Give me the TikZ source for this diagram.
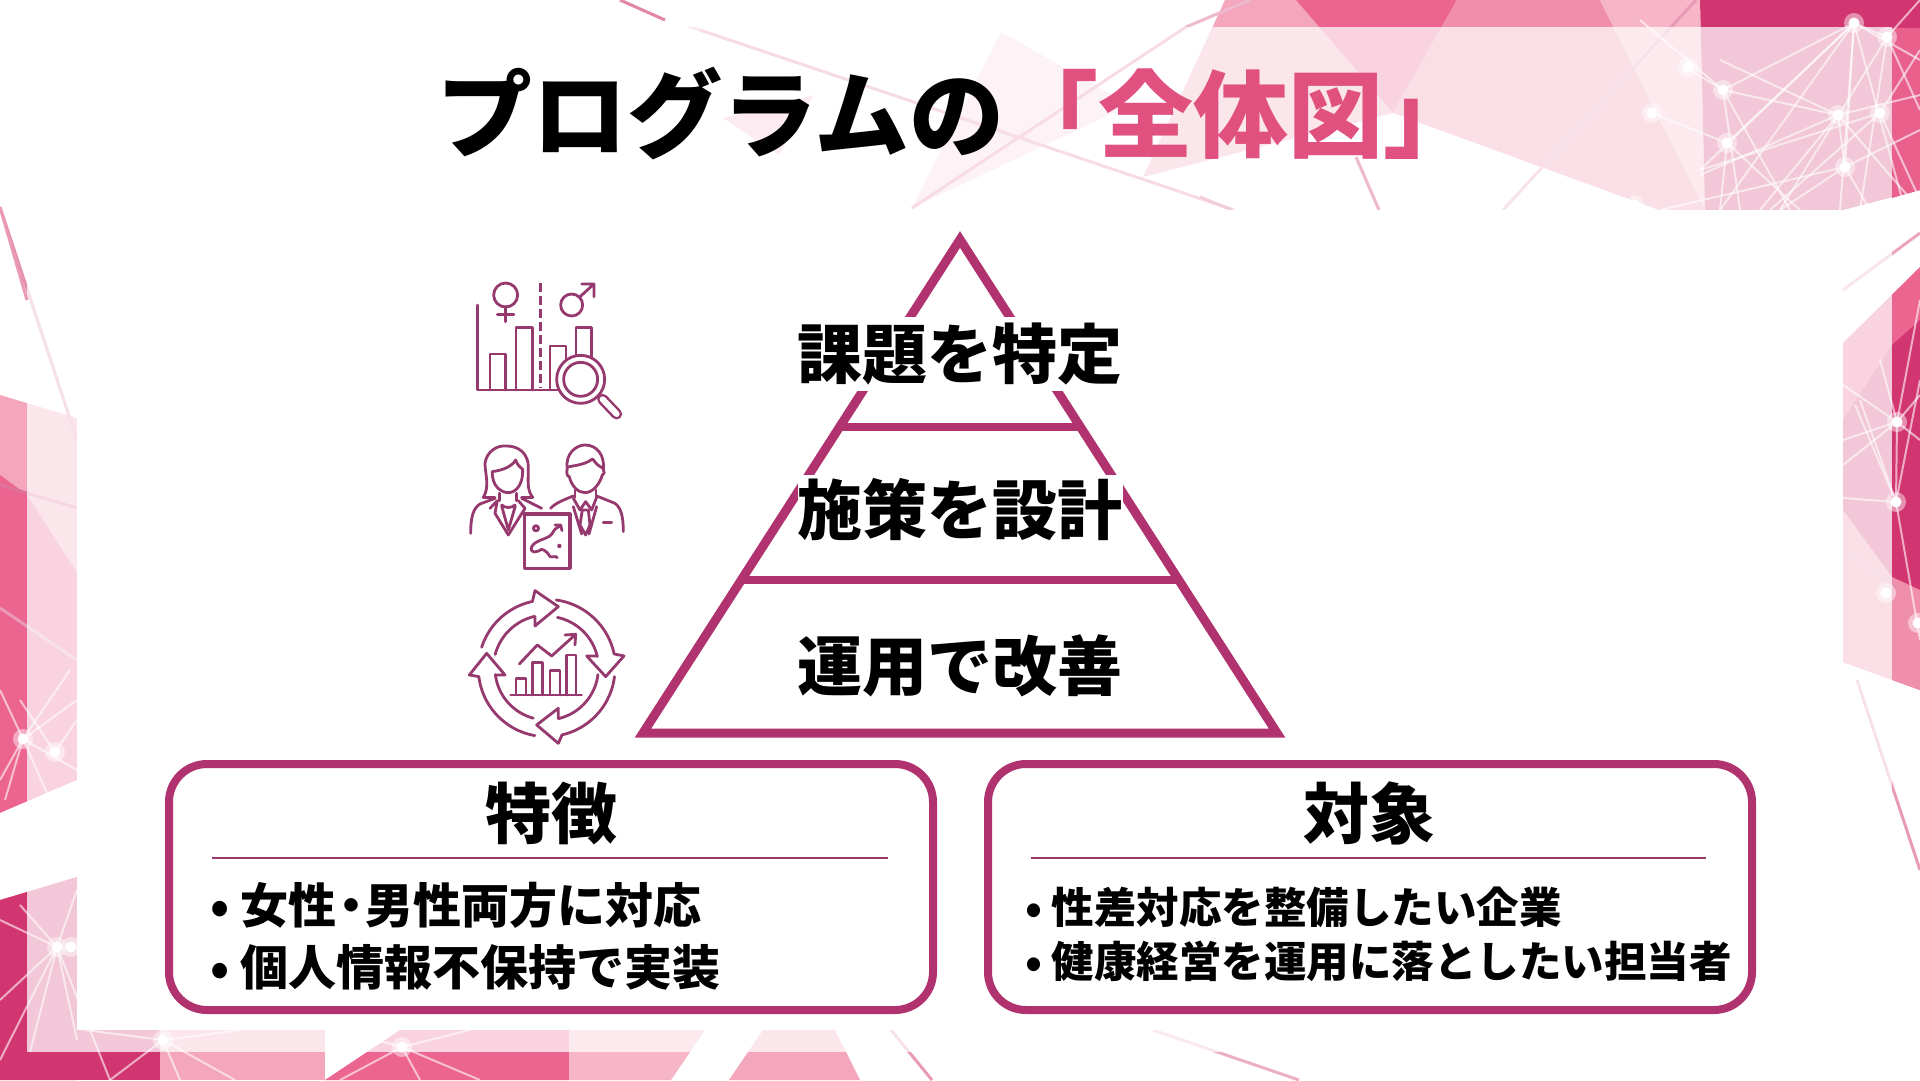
\documentclass[tikz,border=0pt]{standalone}
\usepackage{fontspec}
\setmainfont{Noto Sans CJK JP}[BoldFont={Noto Sans CJK JP Black}]
\usetikzlibrary{calc}
\definecolor{plum}{HTML}{B0326F}
\definecolor{icon}{HTML}{96396F}
\definecolor{titlepink}{HTML}{E0517F}
\definecolor{pa}{HTML}{F4A6BD}
\definecolor{pb}{HTML}{EC6590}
\definecolor{pc}{HTML}{F08FAC}
\definecolor{pd}{HTML}{F7B5C8}
\definecolor{pe}{HTML}{D23670}
\tikzset{
 x=1pt,y=-1pt,
 pyr/.style={draw=plum,line width=9pt,line join=miter},
 box/.style={draw=plum,line width=8pt,rounded corners=38pt,fill=white},
 rule/.style={draw=icon,line width=2.5pt},
 ic/.style={draw=icon,line width=2.8pt,line cap=round,line join=round},
 lab/.style={font=\fontsize{65}{65}\selectfont\bfseries,inner sep=0pt,text=black},
 head/.style={font=\fontsize{66}{66}\selectfont\bfseries,inner sep=0pt,text=black},
 itema/.style={font=\fontsize{48}{48}\selectfont\bfseries,inner sep=0pt,text=black,anchor=base west},
 itemb/.style={font=\fontsize{42.5}{42.5}\selectfont\bfseries,inner sep=0pt,text=black,anchor=base west},
 ray/.style={draw=white,line width=2pt,opacity=.6},
 bgline/.style={draw=#1,line width=3pt},
}
\begin{document}
\begin{tikzpicture}
\useasboundingbox (0,0) rectangle (1920,1080);
\fill[white] (0,0) rectangle (1920,1080);
% --- top right background
\fill[pa] (1225,0)--(1296,0)--(1393,113)--(1143,177)--cycle;
\fill[pb] (1296,0)--(1457,0)--(1393,113)--cycle;
\fill[pc] (1457,0)--(1600,0)--(1705,210)--(1659,210)--(1393,113)--cycle;
\fill[pd] (1600,0)--(1700,0)--(1705,210)--cycle;
\fill[pe] (1700,0)--(1920,0)--(1920,190)--(1843,210)--(1705,210)--cycle;
\fill[pb!90!pe] (1892,28)--(1920,28)--(1920,190)--(1892,198)--cycle;
% faint triangles behind the title
\fill[pb!28] (1001,32)--(1130,105)--(912,208)--cycle;
\fill[pb!42] (723,118)--(814,95)--(779,155)--cycle;
% --- right side
\fill[pb] (1843,343)--(1920,267)--(1920,690)--(1843,662)--cycle;
\fill[pe] (1843,420)--(1892,345)--(1920,320)--(1920,600)--(1892,587)--(1843,510)--cycle;
\fill[pc] (1843,510)--(1892,577)--(1920,590)--(1920,690)--(1843,662)--cycle;
% --- left side
\fill[pa] (0,395)--(77,418)--(77,900)--(0,900)--cycle;
\fill[pb] (0,475)--(27,495)--(77,573)--(77,800)--(0,813)--cycle;
\fill[white] (0,813)--(77,780)--(77,877)--(0,900)--cycle;
\fill[pe] (0,900)--(77,877)--(77,1080)--(0,1080)--cycle;
% --- bottom
\fill[pe] (77,1030) rectangle (160,1080);
\fill[pa] (160,1030) rectangle (325,1080);
\fill[pb] (325,1080)--(400,1030)--(569,1030)--(569,1080)--cycle;
\fill[pd] (569,1030)--(705,1030)--(671,1080)--(569,1080)--cycle;
\fill[pa] (729,1080)--(763,1030)--(835,1030)--(860,1080)--cycle;
% --- thin lines
\path[bgline=pe!55] (0,207)--(77,440);
\path[bgline=pe!70] (0,485)--(77,508);
\path[bgline=pe!50] (0,608)--(77,660);
\path[bgline=pe!35] (610,0)--(700,30);
\path[bgline=pe!35] (1250,0)--(1186,27);
\path[bgline=pe!50] (1696,0)--(1503,210);
\path[bgline=pe!50] (1857,680)--(1920,870);
\path[bgline=pe!45] (1843,290)--(1920,233);
\path[bgline=pe!55] (1843,550)--(1900,590);
\path[bgline=pe!40] (1153,1030)--(1299,1080);
\path[bgline=pe!50] (891,1030)--(932,1080);
% translucent frame
\fill[white,opacity=.72] (27,27) rectangle (1892,1052);
\fill[white] (0,0)--(1000,0)--(1000,27)--(0,27)--cycle;
\fill[white] (0,27) rectangle (27,207);
\path[bgline=pe!60] (620,0)--(665,20);
\path[bgline=pe!50] (0,207)--(27,300);
% lines over the frame
\path[bgline=pe!18] (700,30)--(1234,210);
\path[bgline=pe!18] (1186,27)--(912,208);
\path[bgline=pe!35] (1356,157)--(1379,210);
\path[bgline=pe!25] (1200,197)--(1232,210);
% --- white star network, above the frame
\begin{scope}
\clip (1630,0) rectangle (1920,210) (1843,267) rectangle (1920,690) (0,650) rectangle (77,1080) (77,1030) rectangle (480,1080);
\foreach \a/\b/\c/\d in {1854/23/1720/210, 1854/23/1840/210, 1854/23/1700/170, 1854/23/1905/210, 1854/23/1920/60, 1854/23/1887/37,
 1887/37/1780/210, 1887/37/1920/110, 1887/37/1860/210, 1887/37/1920/0,
 1723/90/1640/20, 1723/90/1838/115, 1723/90/1790/210, 1723/90/1740/210, 1723/90/1690/70, 1723/90/1854/23,
 1838/115/1700/175, 1838/115/1920/95, 1838/115/1760/210, 1838/115/1845/167, 1838/115/1920/210, 1838/115/1720/60,
 1880/113/1770/210, 1880/113/1920/50, 1880/113/1920/200, 1880/113/1700/170,
 1727/143/1652/113, 1727/143/1800/210, 1727/143/1720/210, 1727/143/1854/23,
 1845/167/1780/210, 1845/167/1920/130, 1845/167/1870/210, 1845/167/1854/23, 1845/167/1660/210,
 1897/422/1843/465, 1897/422/1843/440, 1897/422/1920/395, 1897/422/1843/385, 1897/422/1920/300, 1897/422/1880/360,
 1897/422/1896/502, 1897/422/1920/440, 1896/502/1843/498, 1896/502/1855/405, 1896/502/1920/640, 1896/502/1920/380, 1896/502/1860/400,
 23/739/0/690, 23/739/70/670, 23/739/0/780, 23/739/77/700, 23/739/50/800, 23/739/5/800, 23/739/77/770,
 55/752/77/720, 55/752/20/700,
 57/947/0/920, 57/947/77/890, 57/947/0/1000, 57/947/77/1040, 57/947/30/1052, 57/947/0/1060, 57/947/20/905, 57/947/110/1080,
 163/1040/110/1080, 163/1040/235/1080, 163/1040/85/1030, 163/1040/180/1080, 163/1040/240/1030,
 402/1047/340/1080, 402/1047/480/1080, 402/1047/340/1030, 402/1047/470/1030, 402/1047/420/1080}{
 \path[ray] (\a,\b)--(\c,\d);
}
\foreach \p/\q in {1854/23, 1887/37, 1688/67, 1723/90, 1838/115, 1880/113, 1727/143, 1845/167, 1652/113, 1634/205, 1897/422, 1896/502, 1886/593, 1918/623, 23/739, 55/752, 7/832, 14/883, 57/947, 71/947, 163/1040, 402/1047}{
 \fill[white,opacity=.45] (\p,\q) circle (10pt);
 \fill[white] (\p,\q) circle (5.5pt);
}
\end{scope}
% white panel
\fill[white] (77,210) rectangle (1843,1030);
% title
\node[font=\fontsize{95}{95}\selectfont\bfseries,text=black,inner sep=0pt,anchor=base west] (title1) at (437,150) {プログラムの};
\node[font=\fontsize{95}{95}\selectfont\bfseries,text=titlepink,inner sep=0pt,anchor=base west] (title2) at (1003,150) {「全体図」};
% pyramid
\coordinate (apex) at (960,239.5);
\coordinate (bl) at (643,733);
\coordinate (br) at (1277,733);
\path[pyr] (apex)--(bl)--(br)--cycle;
\path[pyr,line width=8pt] (841,427)--(1079,427);
\path[pyr,line width=8pt] (743,580)--(1177,580);
\node[lab,fill=white,minimum width=322pt,minimum height=74pt] (tier1) at (960,354) {課題を特定};
\node[lab,fill=white,minimum width=322pt,minimum height=70pt] (tier2) at (960,510) {施策を設計};
\node[lab] (tier3) at (960,666) {運用で改善};
% icon group
\begin{scope}[shift={(440,260)},x=0.3333pt,y=-0.3333pt]
% icon 1
\path[ic] (113,135)--(113,390)--(360,390);
\path[ic] (150,390)--(150,282)--(197,282)--(197,390);
\path[ic] (228,390)--(228,203)--(277,203)--(277,390);
\path[ic] (330,390)--(330,258)--(378,258)--(378,300);
\path[ic] (408,285)--(408,203)--(455,203)--(455,290);
\path[ic,dash pattern=on 9pt off 4pt,line cap=butt] (302,70)--(302,385);
\path[ic] (197,105) circle (12pt);
\path[ic] (197,140)--(197,185) (172,163)--(222,163);
\path[ic] (395,135) circle (11pt);
\path[ic] (418,112)--(462,72) (425,72)--(462,72)--(462,110);
\draw[icon,line width=11pt,line cap=round] (488,418)--(530,462);
\draw[white,line width=6pt,line cap=round] (488,418)--(530,462);
\fill[white] (422,358) circle (24pt);
\path[ic] (422,358) circle (24pt) (422,358) circle (17pt);
% icon 2 woman
\path[ic] (130,712) .. controls (150,680) and (135,640) .. (135,610) .. controls (140,575) and (170,555) .. (200,558) .. controls (240,558) and (265,585) .. (265,620) .. controls (265,660) and (260,690) .. (278,712);
\path[ic] (130,712)--(165,712) (245,712)--(278,712);
\path[ic] (157,635) .. controls (155,680) and (185,698) .. (205,698) .. controls (230,698) and (250,670) .. (248,628);
\path[ic] (157,635) .. controls (190,630) and (215,620) .. (227,600) .. controls (232,615) and (240,622) .. (248,628);
\path[ic] (178,700)--(178,722) (230,700)--(230,722);
\path[ic] (185,735) .. controls (195,745) and (215,745) .. (225,735);
\path[ic] (92,820) .. controls (92,770) and (100,745) .. (120,732)--(165,715);
\path[ic] (245,715)--(305,745);
\path[ic] (150,745)--(172,722)--(165,760)--(205,825)--(255,745)--(235,722);
\path[ic] (185,738)--(205,810)--(226,738);
% man
\path[ic] (382,625) .. controls (375,580) and (410,555) .. (435,555) .. controls (470,555) and (495,585) .. (490,628);
\path[ic] (382,625) .. controls (378,640) and (382,650) .. (388,650) .. controls (395,680) and (415,698) .. (435,698) .. controls (460,698) and (480,670) .. (487,645) .. controls (493,645) and (495,635) .. (490,628);
\path[ic] (387,620) .. controls (420,615) and (440,610) .. (458,597) .. controls (470,615) and (480,620) .. (490,625);
\path[ic] (405,690)--(405,712) (468,690)--(468,712);
\path[ic] (332,745) .. controls (345,730) and (370,720) .. (400,708);
\path[ic] (470,708)--(525,730) .. controls (545,745) and (550,775) .. (550,815);
\path[ic] (400,715)--(420,750)--(437,725)--(455,750)--(470,712);
\path[ic] (427,750)--(420,795)--(437,825)--(450,795)--(445,750)--cycle;
\path[ic] (400,740)--(425,822) (470,740)--(447,822);
\path[ic] (490,787)--(515,787);
% map sheet
\path[ic,fill=white,line width=3.2pt] (253,762) rectangle (390,925);
\path[ic] (288,805) circle (2.6pt);
\path[ic] (275,860) .. controls (290,835) and (330,840) .. (340,815) .. controls (345,805) and (355,800) .. (362,798);
\path[ic] (345,795)--(362,795)--(366,812);
\path[ic] (275,860) .. controls (268,885) and (295,875) .. (305,868) .. controls (315,870) and (325,880) .. (330,890) .. controls (340,895) and (345,885) .. (352,893);
\path[ic] (358,858) circle (1pt);
% icon 3
\path[ic] plot[domain=162:102,samples=25] ({320+205*cos(\x)},{1225-205*sin(\x)})--(285,992)--(355,1040)--(285,1098)--(285,1070) plot[domain=103:165,samples=25] ({320+160*cos(\x)},{1225-160*sin(\x)});
\path[ic] plot[domain=82:12,samples=25] ({320+207*cos(\x)},{1225-207*sin(\x)})--(552,1188)--(497,1250)--(440,1188)--(472,1188) plot[domain=13:78,samples=25] ({320+156*cos(\x)},{1225-156*sin(\x)});
\path[ic] plot[domain=-7:-77,samples=25] ({320+205*cos(\x)},{1225-205*sin(\x)})--(355,1450)--(290,1395)--(355,1345)--(355,1375) plot[domain=-77:-7,samples=25] ({320+155*cos(\x)},{1225-155*sin(\x)});
\path[ic] plot[domain=-100:-173,samples=25] ({320+205*cos(\x)},{1225-205*sin(\x)})--(88,1245)--(140,1180)--(195,1245)--(168,1245) plot[domain=-173:-105,samples=25] ({320+155*cos(\x)},{1225-155*sin(\x)});
\path[ic] (212,1305)--(425,1305);
\path[ic] (228,1305)--(228,1255)--(258,1255)--(258,1305);
\path[ic] (278,1305)--(278,1207)--(308,1207)--(308,1305);
\path[ic] (330,1305)--(330,1232)--(360,1232)--(360,1305);
\path[ic] (380,1305)--(380,1185)--(408,1185)--(408,1305);
\path[ic] (238,1212)--(292,1155)--(335,1188)--(405,1125);
\path[ic] (375,1125)--(407,1123)--(405,1155);
\end{scope}
% boxes
\path[box] (169,764) rectangle (933,1010);
\path[box] (988,764) rectangle (1752,1010);
\node[head] (feat) at (551,813) {特徴};
\node[head] (targ) at (1369,813) {対象};
\coordinate (fl) at (212,858); \coordinate (fr) at (888,858);
\coordinate (tl) at (1031,858); \coordinate (tr) at (1706,858);
\path[rule] (fl)--(fr);
\path[rule] (tl)--(tr);
\node[itema] (f1) at (210,923) {•\hspace{.24em}女性\hspace{-.2em}・\hspace{-.2em}男性両方に対応};
\node[itema] (f2) at (210,985) {•\hspace{.24em}個人情報不保持で実装};
\node[itemb] (t1) at (1025,923) {•\hspace{.22em}性差対応を整備したい企業};
\node[itemb] (t2) at (1025,977) {•\hspace{.22em}健康経営を運用に落としたい担当者};
\end{tikzpicture}
\end{document}
